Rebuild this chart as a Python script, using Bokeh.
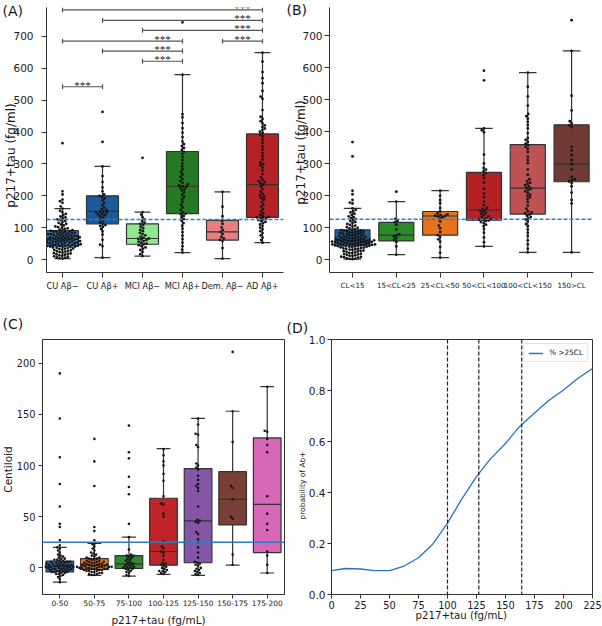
import math
from bokeh.plotting import figure
from bokeh.models import (ColumnDataSource, FixedTicker, Span, Label, LabelSet, GridBox,
                          Range1d, Whisker, TeeHead, Legend, LegendItem, PrintfTickFormatter)
from bokeh.layouts import row, column
from bokeh.embed import file_html
from bokeh.resources import INLINE

FONT = "DejaVu Sans"
EDGE = "#333333"
TXT = "#1a1a1a"

# ---------------- Panel A data ----------------
A_groups = ["CU Aβ−", "CU Aβ+", "MCI Aβ−", "MCI Aβ+", "Dem. Aβ−", "AD Aβ+"]
A_colors = ["#2a7dd0", "#1b5a98", "#8fe88f", "#237a23", "#e77f7f", "#b42226"]
A_q1 = [43, 112, 48, 144, 61, 132]
A_med = [65, 151, 66, 230, 87, 235]
A_q3 = [91, 200, 112, 339, 123, 394]
A_lo = [3, 6, 11, 22, 3, 53]
A_hi = [160, 292, 149, 580, 212, 649]

a_cu_neg = [3, 4, 6, 7, 9, 10, 12, 13, 15, 16, 18, 19, 20, 22, 23, 25, 26, 27, 29, 30, 31, 33, 34, 35,
            36, 37, 38, 39, 40, 41, 41, 42, 43, 43, 44, 45, 45, 46, 47, 48, 48, 49, 50, 51, 51, 52, 53,
            54, 54, 55, 56, 57, 57, 58, 59, 60, 60, 61, 62, 63, 63, 64, 65, 65, 66, 67, 67, 68, 69, 70,
            70, 71, 72, 73, 74, 74, 75, 76, 77, 78, 79, 80, 80, 81, 82, 83, 84, 85, 86, 87, 88, 89, 90,
            91, 92, 94, 96, 98, 100, 102, 104, 107, 110, 112, 115, 118, 121, 124, 126, 129, 132, 135,
            139, 143, 148, 153, 160, 167, 178, 183, 188, 204, 214, 365]
a_cu_pos = [6, 42, 47, 62, 78, 88, 96, 103, 105, 108, 112, 116, 121, 127, 131, 136, 139, 142, 144, 146,
            148, 150, 152, 155, 159, 163, 170, 178, 186, 192, 197, 200, 204, 214, 226, 243, 262, 292,
            369, 463]
a_mci_neg = [11, 17, 24, 30, 34, 38, 42, 45, 48, 50, 53, 56, 58, 61, 63, 65, 66, 69, 72, 76, 80, 84,
             89, 93, 98, 103, 108, 112, 116, 121, 126, 133, 141, 149, 319]
a_mci_pos = [22, 31, 42, 53, 64, 75, 86, 97, 106, 114, 121, 127, 132, 137, 141, 144, 149, 156, 164, 172,
             181, 190, 197, 204, 211, 217, 221, 225, 228, 230, 233, 236, 241, 247, 253, 260, 267, 275,
             283, 292, 301, 312, 322, 331, 338, 344, 350, 356, 362, 370, 384, 398, 412, 428, 446, 456,
             580, 744]
a_dem_neg = [3, 36, 58, 62, 66, 71, 80, 87, 93, 101, 112, 121, 136, 166, 212]
a_ad_pos = [53, 61, 69, 76, 83, 89, 95, 100, 105, 110, 114, 118, 121, 124, 126, 128, 130, 132, 134, 136,
            140, 145, 151, 158, 166, 173, 181, 188, 193, 197, 201, 206, 213, 221, 229, 235, 239, 243,
            246, 250, 258, 268, 279, 289, 296, 300, 305, 314, 324, 334, 345, 355, 366, 376, 386, 392,
            397, 401, 406, 411, 416, 421, 427, 434, 441, 448, 469, 504, 511, 529, 553, 569, 588, 621,
            649]
A_points = [a_cu_neg, a_cu_pos, a_mci_neg, a_mci_pos, a_dem_neg, a_ad_pos]

# significance brackets (group index from, to, height)
br_from = [0, 1, 2, 0, 4, 1, 2, 0]
br_to = [5, 5, 5, 3, 5, 3, 3, 1]
br_y = [783, 750, 719, 685, 685, 654, 622, 542]
br_text = ["***"] * 8

cutoff_ptau = 126

# ---------------- Panel B data ----------------
B_groups = ["CL<15", "15<CL<25", "25<CL<50", "50<CL<100", "100<CL<150", "150>CL"]
B_colors = ["#1b5e9a", "#2a8a2a", "#e8721c", "#b52025", "#bf5353", "#6e3a33"]
B_q1 = [43, 58, 76, 123, 142, 243]
B_med = [60, 76, 136, 155, 223, 298]
B_q3 = [93, 116, 150, 272, 359, 421]
B_lo = [1, 15, 6, 41, 22, 22]
B_hi = [160, 181, 215, 410, 584, 652]

b_cl15 = [1, 2, 3, 4, 6, 7, 8, 9, 11, 12, 13, 15, 16, 17, 18, 20, 21, 22, 24, 25, 26, 27, 28, 30, 31,
          32, 33, 34, 35, 36, 37, 38, 39, 40, 40, 41, 42, 42, 43, 43, 44, 44, 45, 46, 46, 47, 47, 48,
          49, 49, 50, 50, 51, 52, 52, 53, 53, 54, 55, 55, 56, 56, 57, 58, 58, 59, 59, 60, 60, 61, 61,
          62, 63, 64, 64, 65, 66, 67, 68, 68, 69, 70, 71, 72, 73, 74, 75, 76, 77, 78, 79, 80, 81, 82,
          83, 84, 85, 86, 87, 88, 89, 90, 91, 92, 93, 95, 97, 99, 101, 103, 106, 108, 111, 114, 117,
          120, 123, 126, 129, 132, 135, 139, 143, 147, 151, 155, 160, 175, 178, 186, 204, 215, 322, 367]
b_15_25 = [15, 41, 55, 61, 67, 72, 76, 79, 94, 109, 117, 121, 127, 181, 212]
b_25_50 = [6, 21, 39, 56, 63, 70, 76, 86, 98, 106, 119, 128, 132, 135, 136, 137, 139, 141, 144, 150,
           161, 176, 186, 199, 215]
b_50_100 = [41, 54, 69, 84, 95, 104, 109, 114, 117, 120, 122, 124, 125, 127, 129, 132, 135, 139, 142,
            146, 149, 152, 155, 158, 162, 170, 181, 195, 206, 221, 241, 255, 264, 270, 276, 281, 286,
            300, 328, 398, 404, 410, 560, 590]
b_100_150 = [22, 34, 47, 60, 74, 84, 94, 104, 111, 119, 125, 129, 133, 137, 141, 144, 147, 151, 159,
             169, 180, 189, 194, 199, 203, 208, 213, 217, 221, 224, 228, 232, 236, 240, 245, 251, 265,
             281, 301, 311, 321, 336, 346, 352, 357, 362, 368, 374, 380, 395, 410, 420, 430, 440, 448,
             455, 481, 510, 540, 584]
b_150 = [22, 175, 186, 209, 229, 239, 244, 248, 251, 258, 281, 298, 311, 326, 341, 352, 414, 419, 425,
         432, 466, 512, 652, 748]
B_points = [b_cl15, b_15_25, b_25_50, b_50_100, b_100_150, b_150]

# ---------------- Panel C data ----------------
C_groups = ["0-50", "50-75", "75-100", "100-125", "125-150", "150-175", "175-200"]
C_colors = ["#2d6db0", "#e8741e", "#2e8b2e", "#c02328", "#8356a8", "#7a4038", "#d566b8"]
C_q1 = [-3.9, -1.6, -0.6, 2.6, 5, 42, 15]
C_med = [1.6, 2.6, 4, 16, 46, 67, 62]
C_q3 = [6.7, 9, 12, 68, 97, 94, 127]
C_lo = [-14, -7.4, -8, -6.4, -7.4, 2.6, -5]
C_hi = [20, 24, 30, 116.5, 146, 153, 177]

c_0_50 = [-14, -11, -9, -8, -7, -6, -6, -5, -5, -4, -4, -4, -3, -3, -3, -2, -2, -2, -1, -1, -1, -1, 0,
          0, 0, 0, 1, 1, 1, 1, 2, 2, 2, 2, 3, 3, 3, 3, 4, 4, 4, 5, 5, 5, 6, 6, 6, 7, 7, 8, 8, 9, 9, 10,
          11, 12, 13, 15, 17, 19, 20, 22, 27, 40, 43, 60, 82, 108, 146, 190]
c_50_75 = [-7, -7, -6, -6, -5, -5, -4, -4, -3, -3, -3, -2, -2, -2, -1, -1, -1, -1, 0, 0, 0, 0, 0, 1, 1,
           1, 1, 1, 2, 2, 2, 2, 3, 3, 3, 3, 4, 4, 4, 5, 5, 5, 6, 6, 6, 7, 7, 8, 8, 9, 9, 10, 10, 11, 12,
           13, 14, 15, 17, 19, 21, 23, 24, 27, 36, 40, 80, 104, 126]
c_75_100 = [-8, -7, -5, -4, -3, -2, -1, -1, 0, 0, 1, 1, 2, 2, 3, 4, 4, 5, 6, 7, 8, 9, 10, 11, 12, 12, 13,
            18, 30, 43, 72, 79, 89, 107, 113, 139]
c_100_125 = [-6, -5, -4, -3, -3, -2, -1, 0, 1, 2, 3, 4, 5, 8, 12, 15, 16, 19, 21, 26, 50, 53, 62, 63, 70,
             85, 92, 100, 104, 110, 116]
c_125_150 = [-7, -6, -5, -4, -3, -2, -1, 0, 2, 3, 4, 5, 6, 10, 15, 20, 25, 28, 33, 35, 44, 45, 46, 47, 60,
             75, 78, 80, 82, 86, 90, 96, 98, 100, 102, 118, 120, 130, 131, 140, 146]
c_150_175 = [3, 13, 48, 50, 67, 78, 80, 123, 153, 211]
c_175_200 = [-5, 3, 12, 16, 37, 43, 53, 70, 113, 120, 126, 133, 134, 177]
C_points = [c_0_50, c_50_75, c_75_100, c_100_125, c_125_150, c_150_175, c_175_200]
cutoff_cl = 25

# ---------------- Panel D data ----------------
d_x = [0, 12, 25, 37, 50, 62, 75, 87, 100, 112, 125, 137, 150, 162, 175, 187, 200, 212, 225]
d_y = [0.094, 0.102, 0.100, 0.094, 0.094, 0.110, 0.144, 0.196, 0.280, 0.372, 0.462, 0.532, 0.592,
       0.658, 0.712, 0.760, 0.802, 0.846, 0.886]
d_cutoffs = [100, 127, 164]
D_xticks = [0, 25, 50, 75, 100, 125, 150, 175, 200, 225]
D_yticks = [0.0, 0.2, 0.4, 0.6, 0.8, 1.0]
AB_yticks = [0, 100, 200, 300, 400, 500, 600, 700]
C_yticks = [0, 50, 100, 150, 200]

# panel letters and axis titles
panel_letters = ["(A)", "(B)", "(C)", "(D)"]
ylabel_ab = "p217+tau (fg/ml)"
ylabel_c = "Centiloid"
ylabel_d = "probability of Ab+"
xlabel_cd = "p217+tau (fg/mL)"


class Panel:
    def __init__(self, width, height, xr, yr, left, right, top, bottom):
        self.xr, self.yr = xr, yr
        self.fw = width - left - right
        self.fh = height - top - bottom
        p = figure(width=width, height=height, x_range=Range1d(*xr), y_range=Range1d(*yr),
                   output_backend="svg", toolbar_location=None, title=None,
                   min_border_left=left, min_border_right=right,
                   min_border_top=top, min_border_bottom=bottom)
        p.xgrid.visible = False
        p.ygrid.visible = False
        p.outline_line_color = None
        p.background_fill_color = "white"
        p.border_fill_color = "white"
        for ax in (p.xaxis[0], p.yaxis[0]):
            ax.axis_line_color = EDGE
            ax.axis_line_width = 1
            ax.major_tick_line_color = EDGE
            ax.minor_tick_line_color = None
            ax.major_tick_in = 0
            ax.major_label_text_font = FONT
            ax.major_label_text_color = TXT
        self.p = p

    @property
    def xpx(self):
        return self.fw / (self.xr[1] - self.xr[0])

    @property
    def ypx(self):
        return self.fh / (self.yr[1] - self.yr[0])


def swarm_offsets(vals, ypx, d):
    idx = sorted(range(len(vals)), key=lambda i: vals[i])
    placed = []
    off = [0.0] * len(vals)
    for i in idx:
        y = vals[i] * ypx
        near = [(px, py) for (px, py) in placed if abs(py - y) < d]
        cands = [0.0]
        for px, py in near:
            dx = math.sqrt(max(d * d - (py - y) ** 2, 0.0))
            cands.append(px - dx)
            cands.append(px + dx)
        cands.sort(key=lambda c: (abs(c), c))
        chosen = cands[-1]
        for c in cands:
            if all((c - px) ** 2 + (y - py) ** 2 >= d * d - 1e-6 for px, py in near):
                chosen = c
                break
        placed.append((chosen, y))
        off[i] = chosen
    return off


def draw_boxes(p, q1, med, q3, lo, hi, colors, width=0.8, cap=0.2):
    xs = list(range(len(q1)))
    src = ColumnDataSource(dict(
        x=xs, left=[x - width / 2 for x in xs], right=[x + width / 2 for x in xs],
        capl=[x - cap for x in xs], capr=[x + cap for x in xs],
        q1=q1, med=med, q3=q3, lo=lo, hi=hi, color=colors))
    kw = dict(source=src, line_color=EDGE, line_width=1.2)
    p.segment(x0="x", y0="lo", x1="x", y1="q1", **kw)
    p.segment(x0="x", y0="q3", x1="x", y1="hi", **kw)
    p.segment(x0="capl", y0="lo", x1="capr", y1="lo", **kw)
    p.segment(x0="capl", y0="hi", x1="capr", y1="hi", **kw)
    p.quad(left="left", right="right", bottom="q1", top="q3", fill_color="color", **kw)
    p.segment(x0="left", y0="med", x1="right", y1="med", **kw)


def draw_points(panel, groups, d, size):
    xs, ys = [], []
    for i, vals in enumerate(groups):
        offs = swarm_offsets(vals, panel.ypx, d)
        xs += [i + o / panel.xpx for o in offs]
        ys += list(vals)
    panel.p.scatter(xs, ys, size=size, fill_color="#151515", line_color=None)


def cat_axis(p, names, size):
    p.xaxis.ticker = FixedTicker(ticks=list(range(len(names))))
    p.xaxis.major_label_overrides = {i: n for i, n in enumerate(names)}
    p.xaxis.major_label_text_font_size = f"{size}px"


# ---------------- Panel A ----------------
A = Panel(285, 300, (-0.4, 5.525), (-40.6, 790.6), 46, 2, 7, 27)
pA = A.p
cat_axis(pA, A_groups, 8.2)
pA.xaxis.major_tick_out = 5
pA.xaxis.major_label_standoff = 3
pA.yaxis.ticker = FixedTicker(ticks=AB_yticks)
pA.yaxis.major_label_text_font_size = "10.5px"
pA.yaxis.major_tick_out = 5
pA.yaxis.major_label_standoff = 8
draw_boxes(pA, A_q1, A_med, A_q3, A_lo, A_hi, A_colors)
draw_points(A, A_points, 2.9, 2.8)
pA.add_layout(Span(location=cutoff_ptau, dimension="width", line_color="#2a7fd4",
                   line_width=1.5, line_dash="4 2"))
br_src = ColumnDataSource(dict(base=br_y, lower=br_from, upper=br_to,
                               sx=[t - 0.5 for t in br_to], sy=[y - 6 for y in br_y], txt=br_text))
pA.add_layout(Whisker(base="base", lower="lower", upper="upper", dimension="width", source=br_src,
                      line_color="#555555", line_width=1.2,
                      lower_head=TeeHead(size=5, line_color="#555555", line_width=1.2),
                      upper_head=TeeHead(size=5, line_color="#555555", line_width=1.2)))
pA.add_layout(LabelSet(x="sx", y="sy", text="txt", source=br_src, text_font=FONT,
                       text_font_size="11px", text_align="center", text_baseline="alphabetic",
                       text_color="#222222"))

# ---------------- Panel B ----------------
B = Panel(317, 300, (-0.525, 5.5), (-40.6, 787.5), 44, 9, 7, 28)
pB = B.p
cat_axis(pB, B_groups, 7.1)
pB.xaxis.major_tick_out = 5
pB.xaxis.major_label_standoff = 3
pB.yaxis.ticker = FixedTicker(ticks=AB_yticks)
pB.yaxis.major_label_text_font_size = "10.5px"
pB.yaxis.major_tick_out = 5
pB.yaxis.major_label_standoff = 2
draw_boxes(pB, B_q1, B_med, B_q3, B_lo, B_hi, B_colors)
draw_points(B, B_points, 2.9, 2.8)
pB.add_layout(Span(location=cutoff_ptau, dimension="width", line_color="#2a7fd4",
                   line_width=1.5, line_dash="4 2"))

# ---------------- Panel C ----------------
C = Panel(285, 326, (-0.5, 6.5), (-26, 223.1), 42, 1, 39, 28)
pC = C.p
pC.outline_line_color = EDGE
pC.outline_line_width = 1
cat_axis(pC, C_groups, 7.4)
pC.xaxis.major_tick_out = 4
pC.xaxis.major_label_standoff = 1
pC.yaxis.ticker = FixedTicker(ticks=C_yticks)
pC.yaxis.major_label_text_font_size = "9.8px"
pC.yaxis.major_tick_out = 4
pC.yaxis.major_label_standoff = 3
draw_boxes(pC, C_q1, C_med, C_q3, C_lo, C_hi, C_colors)
draw_points(C, C_points, 2.7, 2.6)
pC.add_layout(Span(location=cutoff_cl, dimension="width", line_color="#3478c0", line_width=1.6))

# ---------------- Panel D ----------------
D = Panel(317, 326, (0, 225), (0, 1), 46, 10, 39, 32)
pD = D.p
pD.outline_line_color = EDGE
pD.outline_line_width = 1
pD.xaxis.ticker = FixedTicker(ticks=D_xticks)
pD.xaxis.major_label_text_font_size = "9.8px"
pD.xaxis.major_tick_out = 4
pD.xaxis.major_label_standoff = 2
pD.yaxis.ticker = FixedTicker(ticks=D_yticks)
pD.yaxis.formatter = PrintfTickFormatter(format="%.1f")
pD.yaxis.major_label_text_font_size = "10.5px"
pD.yaxis.major_tick_out = 4
pD.yaxis.major_label_standoff = 2
for c in d_cutoffs:
    pD.add_layout(Span(location=c, dimension="height", line_color="#222222",
                       line_width=1.2, line_dash="4 2"))
curve = pD.line(d_x, d_y, line_color="#2a72c0", line_width=1.3)
leg = Legend(items=[LegendItem(label="% >25CL", renderers=[curve])], location="top_right",
             margin=4, padding=4, spacing=0, glyph_width=15, glyph_height=8, label_height=8,
             label_standoff=6, label_text_font=FONT, label_text_font_size="7.3px",
             label_text_color=TXT, border_line_color="#cccccc", border_line_width=1,
             background_fill_color="white")
pD.add_layout(leg)

# ---------------- transparent overlay for texts outside the plot frames ----------------
TOTAL_W, TOTAL_H = 602, 626
ov = figure(width=TOTAL_W, height=TOTAL_H, x_range=Range1d(0, TOTAL_W), y_range=Range1d(TOTAL_H, 0),
            output_backend="svg", toolbar_location=None, title=None,
            x_axis_location=None, y_axis_location=None,
            min_border_left=0, min_border_right=0, min_border_top=0, min_border_bottom=0)
ov.grid.visible = False
ov.outline_line_color = None
ov.background_fill_color = None
ov.border_fill_color = None


def ov_text(text, x, y, size, angle=0.0, align="center"):
    ov.add_layout(Label(x=x, y=y, text=text, text_font=FONT, text_font_size=f"{size}px",
                        angle=angle, text_align=align, text_baseline="middle", text_color=TXT))


ov_text(panel_letters[0], 2, 10, 14, align="left")
ov_text(panel_letters[1], 286, 9, 14, align="left")
ov_text(panel_letters[2], 2, 323.5, 14, align="left")
ov_text(panel_letters[3], 286, 327, 14, align="left")
ov_text(ylabel_ab, 10, 155, 12, angle=math.pi / 2)
ov_text(ylabel_ab, 300, 152, 12, angle=math.pi / 2)
ov_text(ylabel_c, 7.5, 469, 10.5, angle=math.pi / 2)
ov_text(xlabel_cd, 158, 619, 10.5)
ov_text(ylabel_d, 301.7, 485, 7.5, angle=math.pi / 2)
ov_text(xlabel_cd, 460.8, 615, 10.2)

panels = column(row(pA, pB), row(pC, pD))
layout = GridBox(children=[(panels, 0, 0), (ov, 0, 0)])
open("out.html", "w").write(file_html(layout, INLINE))
